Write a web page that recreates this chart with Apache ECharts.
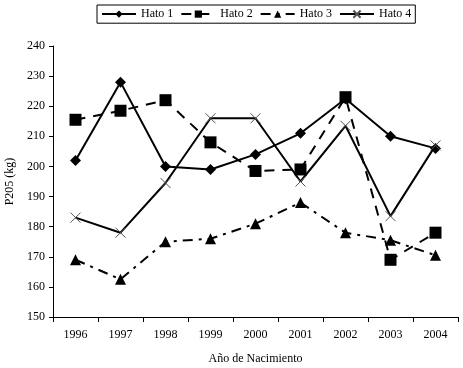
<!DOCTYPE html>
<html>
<head>
<meta charset="utf-8">
<script src="https://cdn.jsdelivr.net/npm/echarts@6/dist/echarts.min.js"></script>
<style>
  html, body { margin: 0; padding: 0; background: #fff; }
  #chart { width: 463px; height: 368px; }
</style>
</head>
<body>
<div id="chart"></div>
<script>
// años de nacimiento
const years = ['1996', '1997', '1998', '1999', '2000', '2001', '2002', '2003', '2004'];

// P205 (kg) por hato
const hato1 = [202, 228, 200, 199, 204, 211, 222.5, 210, 206];
const hato2 = [215.5, 218.5, 222, 208, 198.5, 199, 223, 169, 178];
const hato3 = [169, 162.5, 175, 176, 181, 188, 178, 175.5, 170.5];
const hato4 = [183, 178, 194.5, 216, 216, 195, 213.5, 183.5, 207];

const serif = '"Liberation Serif", "DejaVu Serif", serif';

const chart = echarts.init(document.getElementById('chart'));

const mk = (name, data, symbol, size, dash) => ({
    name: name,
    type: 'line',
    data: data,
    symbol: symbol,
    symbolSize: size,
    itemStyle: { color: '#000' },
    lineStyle: { color: '#000', width: 2, type: dash },
});

const option = {
    animation: false,
    backgroundColor: '#fff',
    textStyle: { fontFamily: serif },
    legend: {
        top: 5,
        left: 97,
        itemWidth: 34,
        itemHeight: 9,
        itemGap: 7,
        padding: [3, 4],
        borderColor: '#000',
        borderWidth: 1,
        textStyle: { fontFamily: serif, fontSize: 12, color: '#000' },
        data: ['Hato 1', 'Hato 2', 'Hato 3', 'Hato 4'],
    },
    grid: { left: 53, right: 5, top: 46, bottom: 51, outerBoundsMode: 'none' },
    xAxis: {
        type: 'category',
        data: years,
        name: 'Año de Nacimiento',
        nameLocation: 'middle',
        nameGap: 36,
        nameTextStyle: { fontFamily: serif, fontSize: 12, color: '#000' },
        axisLine: { lineStyle: { color: '#000', width: 1 } },
        axisTick: { show: true, length: 5, lineStyle: { color: '#000' } },
        axisLabel: { color: '#000', fontSize: 12, fontFamily: serif, margin: 12 },
    },
    yAxis: {
        type: 'value',
        min: 150,
        max: 240,
        interval: 10,
        name: 'P205 (kg)',
        nameLocation: 'middle',
        nameRotate: 90,
        nameGap: 36,
        nameTextStyle: { fontFamily: serif, fontSize: 12, color: '#000' },
        axisLine: { show: true, lineStyle: { color: '#000', width: 1 } },
        axisTick: { show: true, length: 4, lineStyle: { color: '#000' } },
        splitLine: { show: false },
        axisLabel: { color: '#000', fontSize: 12, fontFamily: serif, margin: 8 },
    },
    series: [
        mk('Hato 1', hato1, 'diamond', 11, 'solid'),
        mk('Hato 2', hato2, 'rect', 12, [10, 8]),
        mk('Hato 3', hato3, 'triangle', 11, [10, 6, 3, 6]),
        {
            name: 'Hato 4',
            type: 'line',
            data: hato4,
            symbol: 'path://M0,0L10,10M10,0L0,10',
            symbolSize: 10,
            itemStyle: { color: 'none', borderColor: '#555', borderWidth: 1 },
            lineStyle: { color: '#000', width: 2, type: 'solid' },
        },
    ],
};

chart.setOption(option);
</script>
</body>
</html>
